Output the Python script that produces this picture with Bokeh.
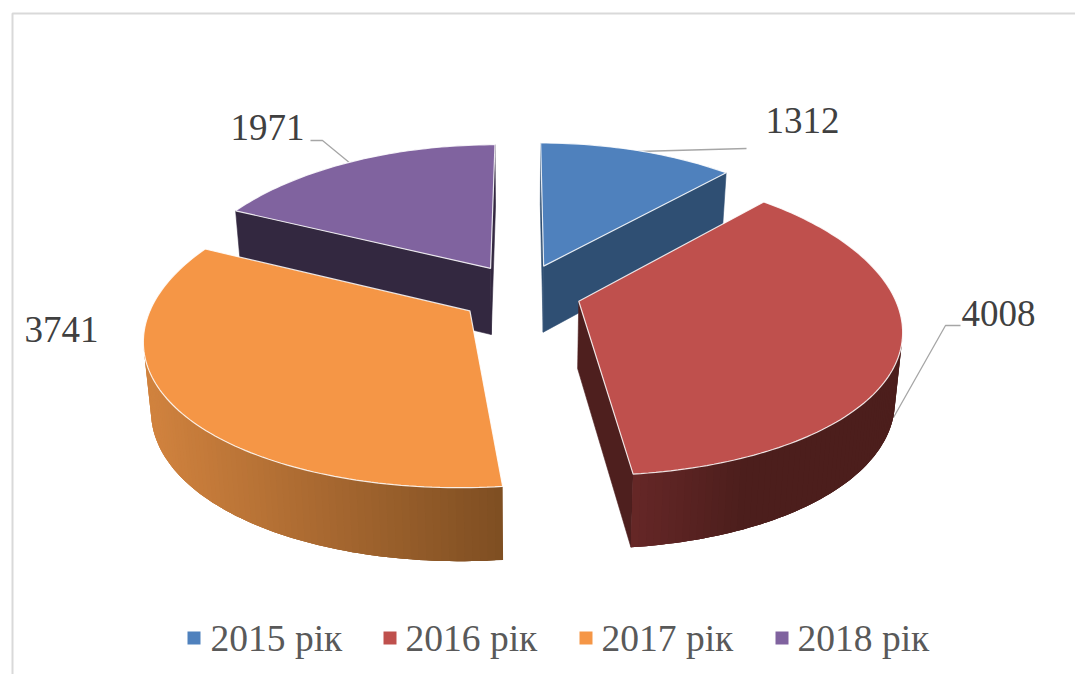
import numpy as np
from bokeh.plotting import figure
from bokeh.core.properties import value
from bokeh.embed import file_html
from bokeh.resources import INLINE

categories = ["2015 рік", "2016 рік", "2017 рік", "2018 рік"]
values = [1312, 4008, 3741, 1971]
top_colors = ["#4f81bd", "#bf504d", "#f59646", "#80639f"]
cut_colors = ["#2f4f73", "#4e1f1e", "#7e4e22", "#332840"]
wall_left = ["#2f4f73", "#662727", "#d0823e", "#332840"]
wall_right = ["#2f4f73", "#4c1e1c", "#7e4e22", "#332840"]
wall_span = [(540, 730), (631, 745), (150, 503), (233, 495)]
nudge_x = [0, -1, -3, -1]
nudge_y = [0, 1, 3, 0]
draw_order = [0, 3, 1, 2]

CX, CY = 522, 291
RX, RY = 314, 147
KX, KY = 0.17, 0.14
DEPTH, K2 = 67, 0.08
TAPER = 0.98
EXPLODE = 0.19
FONT = value("Liberation Serif")

p = figure(width=1075, height=674, x_range=(0, 1075), y_range=(674, 0),
           output_backend="svg", toolbar_location=None, min_border=0)
p.axis.visible = False
p.grid.visible = False
p.outline_line_color = None

p.line([12, 12, 1075], [674, 13, 13], line_color="#d9d9d9", line_width=2)


def project(x, y):
    return CX + RX * x / (1 + KX * y), CY - RY * y / (1 + KY * y)


def drop(sx, sy, y):
    return CX + (sx - CX) * TAPER, sy + DEPTH / (1 + K2 * y)


def blend(a, b, t):
    t = min(1, max(0, t))
    ca = [int(a[i:i + 2], 16) for i in (1, 3, 5)]
    cb = [int(b[i:i + 2], 16) for i in (1, 3, 5)]
    return "#%02x%02x%02x" % tuple(int(round(u + (v - u) * t)) for u, v in zip(ca, cb))


def facing(xs, ys):
    return sum(xs[i] * ys[(i + 1) % len(xs)] - xs[(i + 1) % len(xs)] * ys[i] for i in range(len(xs)))


# Leader lines sit behind the pie
for lx, ly in [([746, 637], [148, 151]), ([960, 945, 893], [325, 325, 417]), ([310, 322, 350], [140, 140, 163])]:
    p.line(lx, ly, line_color="#a6a6a6", line_width=1.3)

total = sum(values)
edges = np.cumsum([0] + values) / total * 2 * np.pi

for i in draw_order:
    a0, a1 = edges[i], edges[i + 1]
    mid = (a0 + a1) / 2
    ox, oy = EXPLODE * np.sin(mid), EXPLODE * np.cos(mid)
    th = np.linspace(a0, a1, max(12, int((a1 - a0) * 50)))
    dx = ox + np.sin(th)
    dy = oy + np.cos(th)
    sx, sy = project(dx, dy)
    sx, sy = sx + nudge_x[i], sy + nudge_y[i]
    ax, ay = project(ox, oy)
    ax, ay = ax + nudge_x[i], ay + nudge_y[i]
    bx, by = drop(sx, sy, dy)
    abx, aby = drop(ax, ay, oy)

    # two cut faces, drawn only when they turn toward the viewer
    for k, sign in ((0, -1), (-1, 1)):
        qx = [ax, sx[k], bx[k], abx]
        qy = [ay, sy[k], by[k], aby]
        if facing(qx, qy) * sign > 0:
            p.patch(qx, qy, fill_color=cut_colors[i], line_color=cut_colors[i], line_width=0.6)
    # outer wall as overlapping shaded pieces, only those facing the viewer
    lo, hi = wall_span[i]
    n = len(th)
    for j in range(n - 1):
        qx = [sx[j], sx[j + 1], bx[j + 1], bx[j]]
        qy = [sy[j], sy[j + 1], by[j + 1], by[j]]
        if facing(qx, qy) > 0:
            continue
        e = min(j + 3, n - 1)
        px = [*sx[j:e + 1], *bx[j:e + 1][::-1]]
        py = [*sy[j:e + 1], *by[j:e + 1][::-1]]
        c = blend(wall_left[i], wall_right[i], ((sx[j] + sx[j + 1]) / 2 - lo) / (hi - lo))
        p.patch(px, py, fill_color=c, line_color=None)
    # top face
    p.patch([ax, *sx], [ay, *sy], fill_color=top_colors[i], line_color="#ffffff", line_width=1.2, line_alpha=0.85)

label_x = [765, 961, 24, 230]
label_y = [120, 313, 329, 127]
p.text(label_x, label_y, text=[str(v) for v in values], text_font=FONT, text_font_size="37px",
       text_color="#404040", text_baseline="alphabetic", text_align="left")

swatch_x = [187, 383, 579, 775]
legend_x = [210, 405, 601, 797]
p.quad(left=swatch_x, right=[x + 13 for x in swatch_x], top=[631] * 4, bottom=[644] * 4,
       fill_color=top_colors, line_color=None)
p.text(legend_x, [638] * 4, text=categories, text_font=FONT, text_font_size="37.5px",
       text_color="#595959", text_baseline="alphabetic", text_align="left")

open("out.html", "w").write(file_html(p, INLINE))
